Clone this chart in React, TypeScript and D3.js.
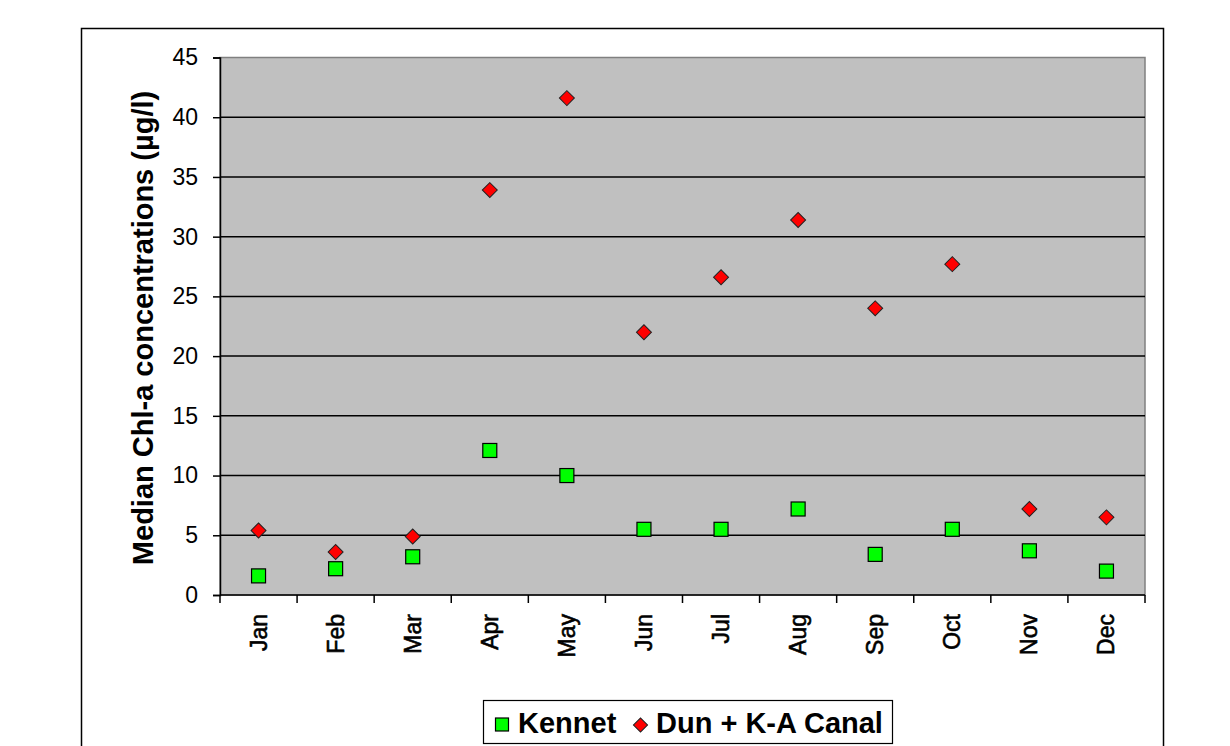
import React, { useEffect, useRef } from 'react';
import * as d3 from 'd3';

const months = ['Jan', 'Feb', 'Mar', 'Apr', 'May', 'Jun', 'Jul', 'Aug', 'Sep', 'Oct', 'Nov', 'Dec'];
const kennet = [1.6, 2.2, 3.2, 12.1, 10.0, 5.5, 5.5, 7.2, 3.4, 5.5, 3.7, 2.0];
const dunCanal = [5.4, 3.6, 4.9, 33.9, 41.6, 22.0, 26.6, 31.4, 24.0, 27.7, 7.2, 6.5];
const yTicks = [0, 5, 10, 15, 20, 25, 30, 35, 40, 45];

const W = 1230;
const H = 746;
const plot = { left: 220, top: 57.5, right: 1145, bottom: 595 };
const FONT = 'Arial, "Liberation Sans", sans-serif';

export default function App() {
  const ref = useRef<SVGSVGElement>(null);

  useEffect(() => {
    if (!ref.current) return;
    const svg = d3.select(ref.current);
    svg.selectAll('*').remove();

    const x = d3.scaleBand().domain(months).range([plot.left, plot.right]);
    const y = d3.scaleLinear().domain([0, 45]).range([plot.bottom, plot.top]);

    // chart frame
    svg.append('rect')
      .attr('x', 81.5).attr('y', 28.5)
      .attr('width', 1082).attr('height', 730)
      .attr('fill', '#fff').attr('stroke', '#000').attr('stroke-width', 1.5);

    // plot area
    svg.append('rect')
      .attr('x', plot.left).attr('y', plot.top)
      .attr('width', plot.right - plot.left).attr('height', plot.bottom - plot.top)
      .attr('fill', '#c0c0c0').attr('stroke', '#808080').attr('stroke-width', 1.5);

    // gridlines
    svg.append('g').selectAll('line')
      .data(yTicks.filter(d => d > 0 && d < 45))
      .join('line')
      .attr('x1', plot.left).attr('x2', plot.right)
      .attr('y1', d => y(d)).attr('y2', d => y(d))
      .attr('stroke', '#000').attr('stroke-width', 1.5);

    // y axis
    const yAxis = d3.axisLeft(y).tickValues(yTicks).tickSize(7).tickPadding(15);
    svg.append('g')
      .attr('transform', `translate(${plot.left},0)`)
      .call(yAxis)
      .call(g => g.select('.domain').attr('stroke', '#000').attr('stroke-width', 1.5))
      .call(g => g.selectAll('.tick line').attr('stroke', '#000').attr('stroke-width', 1.5))
      .call(g => g.selectAll('.tick text')
        .attr('fill', '#000').attr('font-size', '23px').attr('font-family', FONT));

    // x axis: ticks at category boundaries
    const xAxisG = svg.append('g');
    xAxisG.append('line')
      .attr('x1', plot.left).attr('x2', plot.right)
      .attr('y1', plot.bottom).attr('y2', plot.bottom)
      .attr('stroke', '#000').attr('stroke-width', 1.5);
    xAxisG.selectAll('line.tk')
      .data(d3.range(months.length + 1))
      .join('line')
      .attr('class', 'tk')
      .attr('x1', i => plot.left + i * x.bandwidth())
      .attr('x2', i => plot.left + i * x.bandwidth())
      .attr('y1', plot.bottom).attr('y2', plot.bottom + 8)
      .attr('stroke', '#000').attr('stroke-width', 1.5);
    xAxisG.selectAll('text')
      .data(months)
      .join('text')
      .attr('transform', d => `translate(${x(d)! + x.bandwidth() / 2 + 8},${plot.bottom + 19}) rotate(-90)`)
      .attr('text-anchor', 'end')
      .attr('font-size', '23px')
      .attr('font-family', FONT)
      .attr('fill', '#000')
      .attr('stroke', '#000')
      .attr('stroke-width', 0.6)
      .text(d => d);

    // y axis label
    svg.append('text')
      .attr('transform', `translate(153,328) rotate(-90)`)
      .attr('text-anchor', 'middle')
      .attr('font-size', '29px')
      .attr('font-weight', 'bold')
      .attr('font-family', FONT)
      .attr('fill', '#000')
      .text('Median Chl-a concentrations (µg/l)');

    const cx = (m: string) => x(m)! + x.bandwidth() / 2;

    // Kennet squares
    svg.append('g').selectAll('rect')
      .data(kennet)
      .join('rect')
      .attr('x', (d, i) => cx(months[i]) - 7)
      .attr('y', d => y(d) - 7)
      .attr('width', 14).attr('height', 14)
      .attr('fill', '#00ff00').attr('stroke', '#000').attr('stroke-width', 1.2);

    // Dun + K-A Canal diamonds
    const diamond = d3.symbol().type(d3.symbolSquare).size(112);
    svg.append('g').selectAll('path')
      .data(dunCanal)
      .join('path')
      .attr('d', diamond)
      .attr('transform', (d, i) => `translate(${cx(months[i])},${y(d)}) rotate(45)`)
      .attr('fill', '#ff0000').attr('stroke', '#222').attr('stroke-width', 1);

    // legend
    const lg = svg.append('g');
    lg.append('rect')
      .attr('x', 483.5).attr('y', 700.5)
      .attr('width', 409).attr('height', 43)
      .attr('fill', '#fff').attr('stroke', '#000').attr('stroke-width', 1.2);
    lg.append('rect')
      .attr('x', 495.5).attr('y', 718).attr('width', 13).attr('height', 13)
      .attr('fill', '#00ff00').attr('stroke', '#000').attr('stroke-width', 1.2);
    lg.append('text')
      .attr('x', 518).attr('y', 733)
      .attr('font-size', '29px').attr('font-weight', 'bold')
      .attr('font-family', FONT)
      .text('Kennet');
    lg.append('path')
      .attr('d', d3.symbol().type(d3.symbolSquare).size(100))
      .attr('transform', 'translate(640.5,725) rotate(45)')
      .attr('fill', '#ff0000').attr('stroke', '#222').attr('stroke-width', 1);
    lg.append('text')
      .attr('x', 656).attr('y', 733)
      .attr('font-size', '29px').attr('font-weight', 'bold')
      .attr('font-family', FONT)
      .text('Dun + K-A Canal');
  }, []);

  return (
    <div style={{ position: 'absolute', left: 0, top: 0 }}>
      <svg ref={ref} width={W} height={H} style={{ display: 'block', background: '#fff' }} />
    </div>
  );
}
